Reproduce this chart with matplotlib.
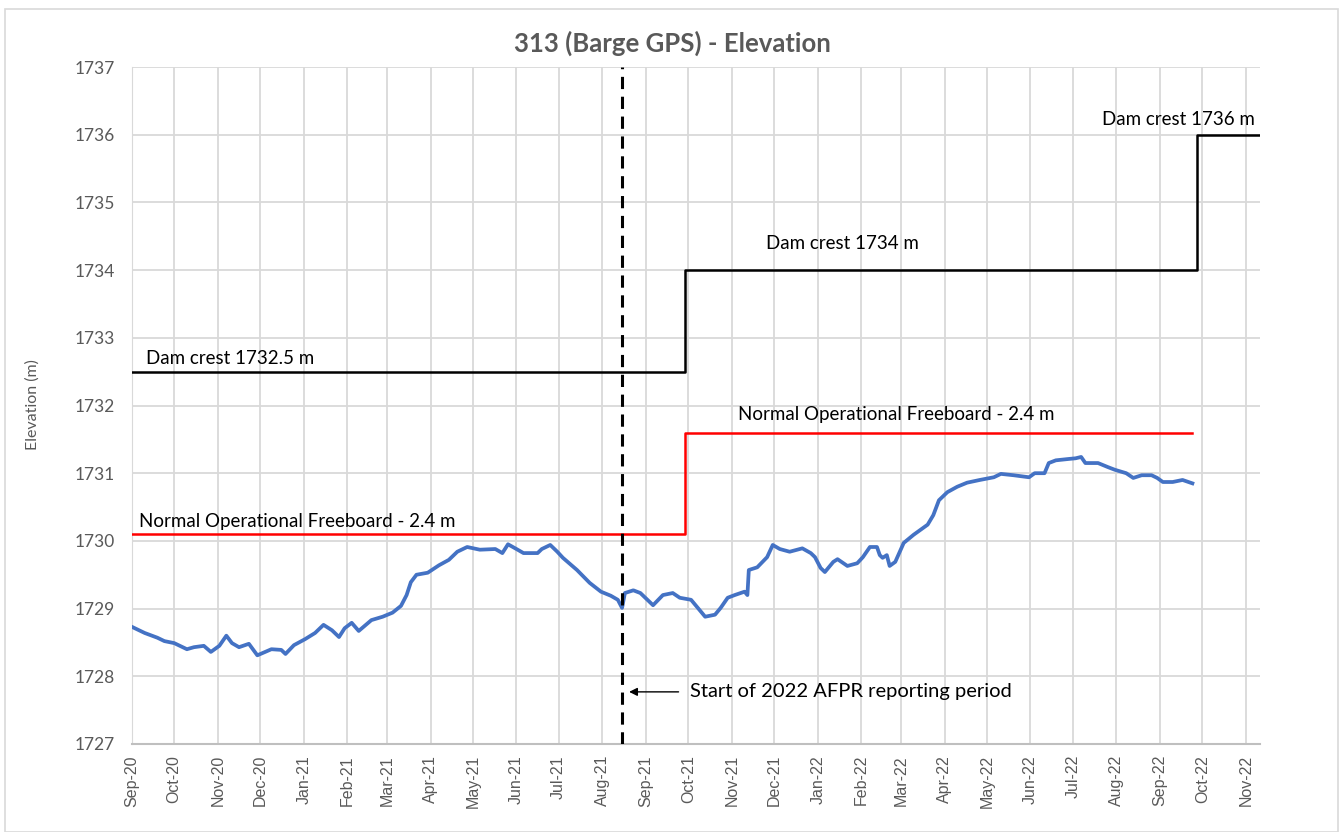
import numpy as np
import pandas as pd
import matplotlib
matplotlib.use("Agg")
import matplotlib.pyplot as plt
import matplotlib.dates as mdates
from matplotlib.patches import Rectangle

# Barge GPS elevation
gps_dates = [
    "2020-09-01", "2020-09-10", "2020-09-19", "2020-09-24", "2020-10-01", "2020-10-10",
    "2020-10-15", "2020-10-22", "2020-10-27", "2020-11-02", "2020-11-07", "2020-11-11",
    "2020-11-16", "2020-11-23", "2020-11-29", "2020-12-09", "2020-12-16", "2020-12-19",
    "2020-12-25", "2021-01-02", "2021-01-09", "2021-01-15", "2021-01-21", "2021-01-26",
    "2021-01-30", "2021-02-04", "2021-02-09", "2021-02-18", "2021-02-26", "2021-03-05",
    "2021-03-11", "2021-03-15", "2021-03-18", "2021-03-22", "2021-03-30", "2021-04-07",
    "2021-04-14", "2021-04-20", "2021-04-27", "2021-05-06", "2021-05-17", "2021-05-22",
    "2021-05-26", "2021-06-01", "2021-06-06", "2021-06-16", "2021-06-19", "2021-06-25",
    "2021-06-30", "2021-07-04", "2021-07-14", "2021-07-23", "2021-07-31", "2021-08-07",
    "2021-08-12", "2021-08-15", "2021-08-17", "2021-08-23", "2021-08-28", "2021-09-06",
    "2021-09-13", "2021-09-20", "2021-09-25", "2021-10-03", "2021-10-13", "2021-10-20",
    "2021-10-24", "2021-10-29", "2021-11-03", "2021-11-10", "2021-11-12", "2021-11-13",
    "2021-11-19", "2021-11-26", "2021-11-30", "2021-12-05", "2021-12-12", "2021-12-21",
    "2021-12-27", "2021-12-30", "2022-01-03", "2022-01-06", "2022-01-12", "2022-01-15",
    "2022-01-22", "2022-01-29", "2022-02-02", "2022-02-07", "2022-02-12", "2022-02-14",
    "2022-02-16", "2022-02-19", "2022-02-21", "2022-02-25", "2022-03-03", "2022-03-10",
    "2022-03-20", "2022-03-24", "2022-03-28", "2022-04-03", "2022-04-10", "2022-04-17",
    "2022-04-26", "2022-05-06", "2022-05-11", "2022-05-20", "2022-05-31", "2022-06-04",
    "2022-06-11", "2022-06-14", "2022-06-19", "2022-06-28", "2022-07-03", "2022-07-07",
    "2022-07-10", "2022-07-19", "2022-07-26", "2022-07-31", "2022-08-08", "2022-08-13",
    "2022-08-19", "2022-08-26", "2022-08-30", "2022-09-03", "2022-09-10", "2022-09-17",
    "2022-09-24",
]
gps_elev = [
    1728.73, 1728.64, 1728.57, 1728.52, 1728.49, 1728.40,
    1728.43, 1728.45, 1728.36, 1728.45, 1728.60, 1728.49,
    1728.43, 1728.48, 1728.31, 1728.40, 1728.39, 1728.33,
    1728.46, 1728.55, 1728.64, 1728.76, 1728.68, 1728.58,
    1728.71, 1728.79, 1728.67, 1728.83, 1728.88, 1728.94,
    1729.04, 1729.20, 1729.39, 1729.50, 1729.53, 1729.64,
    1729.72, 1729.84, 1729.91, 1729.87, 1729.88, 1729.82,
    1729.95, 1729.88, 1729.82, 1729.82, 1729.88, 1729.94,
    1729.84, 1729.75, 1729.57, 1729.38, 1729.25, 1729.19,
    1729.13, 1729.01, 1729.23, 1729.27, 1729.23, 1729.05,
    1729.20, 1729.23, 1729.16, 1729.13, 1728.88, 1728.91,
    1729.01, 1729.16, 1729.20, 1729.25, 1729.20, 1729.57,
    1729.61, 1729.76, 1729.94, 1729.88, 1729.84, 1729.89,
    1729.82, 1729.76, 1729.60, 1729.54, 1729.69, 1729.73,
    1729.63, 1729.67, 1729.76, 1729.91, 1729.91, 1729.79,
    1729.75, 1729.79, 1729.63, 1729.69, 1729.97, 1730.09,
    1730.24, 1730.38, 1730.60, 1730.72, 1730.80, 1730.86,
    1730.90, 1730.94, 1730.99, 1730.97, 1730.94, 1731.00,
    1731.00, 1731.15, 1731.19, 1731.21, 1731.22, 1731.24,
    1731.15, 1731.15, 1731.09, 1731.05, 1731.00, 1730.93,
    1730.97, 1730.97, 1730.93, 1730.87, 1730.87, 1730.90,
    1730.85,
]

# dam crest and freeboard step levels
crest_dates = ["2020-09-01", "2021-09-29", "2022-09-27", "2022-11-11"]
crest_elev = [1732.5, 1734.0, 1736.0, 1736.0]
freeboard_dates = ["2020-09-01", "2021-09-29", "2022-09-24"]
freeboard_elev = [1730.1, 1731.6, 1731.6]

afpr_start = "2021-08-15"
x_min, x_max = "2020-09-01", "2022-11-11"
y_ticks = list(range(1727, 1738))

d = lambda s: pd.to_datetime(s)

grey = "#595959"
plt.rcParams["font.family"] = ["Lato", "DejaVu Sans"]

fig = plt.figure(figsize=(13.39, 8.32), dpi=100)
ax = fig.add_axes([132 / 1339, 1 - 744 / 832, (1260 - 132) / 1339, (744 - 67) / 832])

# outer chart border
fig.patches.append(Rectangle((5 / 1339, 0.0), 1 - 5 / 1339 - 0.001, 1 - 9 / 832, transform=fig.transFigure,
                             fill=False, edgecolor="#d9d9d9", linewidth=1.2))

ax.plot(pd.to_datetime(gps_dates), gps_elev, color="#4472C4", linewidth=2.7, zorder=3)
ax.plot(pd.to_datetime(crest_dates), crest_elev, color="black", linewidth=1.8, drawstyle="steps-post", zorder=4)
ax.plot(pd.to_datetime(freeboard_dates), freeboard_elev, color="#FF0000", linewidth=1.8,
        drawstyle="steps-post", zorder=4)
ax.axvline(d(afpr_start), color="black", linewidth=2.2, linestyle=(0, (4, 2.5)), zorder=5)

txt = dict(fontsize=13.5, color="black", va="center", ha="left")
ax.text(d("2020-09-11"), 1732.70, "Dam crest 1732.5 m", **txt)
ax.text(d("2021-11-25"), 1734.39, "Dam crest 1734 m", **txt)
ax.text(d("2022-07-22"), 1736.23, "Dam crest 1736 m", **txt)
ax.text(d("2020-09-06"), 1730.28, "Normal Operational Freeboard - 2.4 m", **txt)
ax.text(d("2021-11-05"), 1731.86, "Normal Operational Freeboard - 2.4 m", **txt)
ax.annotate("Start of 2022 AFPR reporting period", xy=(d("2021-08-20"), 1727.77),
            xytext=(d("2021-10-02"), 1727.77), fontsize=14.5, va="center", ha="left",
            arrowprops=dict(arrowstyle="-|>", color="black", lw=1.0, shrinkA=6, shrinkB=0,
                            mutation_scale=12))

ax.set_xlim(d(x_min), d(x_max))
ax.set_ylim(1727, 1737)
ax.set_yticks(y_ticks)
ax.xaxis.set_major_locator(mdates.MonthLocator())
ax.xaxis.set_major_formatter(mdates.DateFormatter("%b-%y"))
ax.tick_params(axis="x", labelsize=11.5, colors=grey, length=0, pad=8)
ax.tick_params(axis="y", labelsize=12.5, colors=grey, length=0, pad=12)
plt.setp(ax.get_xticklabels(), rotation=90, family=["Liberation Sans", "DejaVu Sans"])

ax.grid(True, color="#d9d9d9", linewidth=1.3)
ax.set_axisbelow(True)
for side in ["top", "right"]:
    ax.spines[side].set_visible(False)
ax.spines["left"].set_color("#d9d9d9")
ax.spines["bottom"].set_color("#bfbfbf")
ax.spines["bottom"].set_linewidth(1.5)

fig.text(33 / 1339, 1 - 405 / 832, "Elevation (m)", rotation=90, va="center", ha="center",
         fontsize=11.5, color=grey)
fig.text(0.502, 1 - 43 / 832, "313 (Barge GPS) - Elevation", ha="center", va="center",
         fontsize=18.5, fontweight="bold", color=grey)

fig.savefig("out.png", dpi=100)
